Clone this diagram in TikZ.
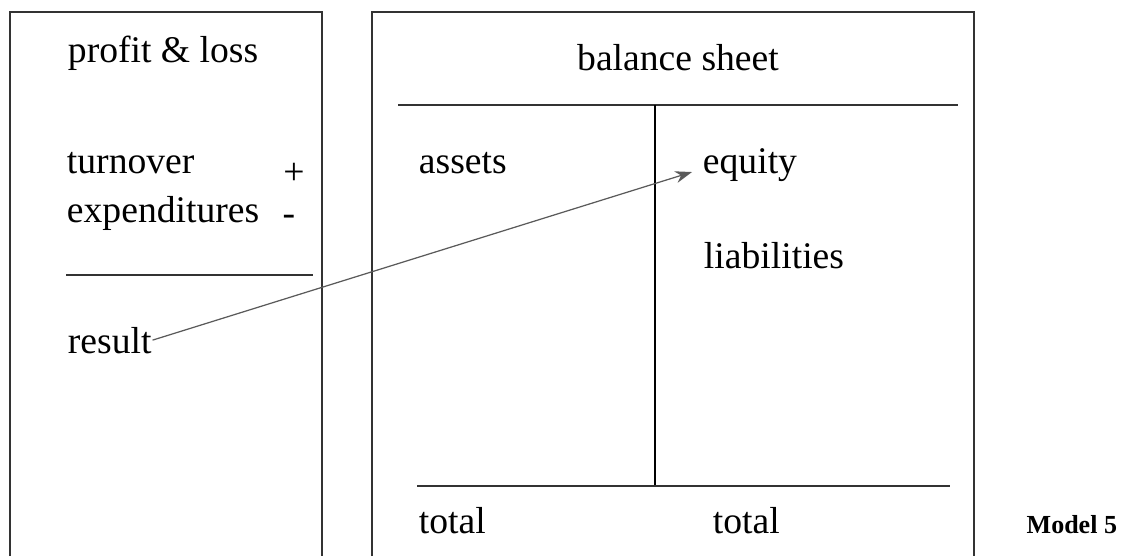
\documentclass[tikz,border=0pt]{standalone}
\usepackage{fontspec}
\setmainfont{Liberation Serif}
\usetikzlibrary{arrows.meta}
\definecolor{acframe}{HTML}{333333}
\definecolor{acarrow}{HTML}{5A5A5A}

\begin{document}
\begin{tikzpicture}[x=0.01cm, y=-0.01cm, line width=0.55pt,
    lbl/.style={inner sep=0pt, anchor=base west, font=\fontsize{10.7}{12}\selectfont},
    sgn/.style={inner sep=0pt, font=\fontsize{10.7}{12}\selectfont}]
  \useasboundingbox (0,0) rectangle (1130,556);
  % profit and loss account
  \draw[acframe] (10,556) -- (10,12) -- (322,12) -- (322,556);
  \node[lbl] (pl) at (67,62) {profit \& loss};
  \node[lbl] (turnover) at (66,173) {turnover};
  \node[sgn] (plus) at (294,174) {+};
  \node[lbl] (expend) at (66,222) {expenditures};
  \node[sgn] (minus) at (289,220) {-};
  \draw[acframe, line width=0.45pt] (66,275) -- (313,275);
  \node[lbl] (result) at (67,353) {result};
  % balance sheet
  \draw[acframe] (372,556) -- (372,12) -- (974,12) -- (974,556);
  \node[inner sep=0pt, anchor=base, font=\fontsize{10.7}{12}\selectfont] (bs) at (678,70) {balance sheet};
  \draw[acframe, line width=0.45pt] (398,105) -- (958,105);
  \draw[line width=0.35pt] (655,105) -- (655,486);
  \draw[acframe, line width=0.45pt] (417,486) -- (950,486);
  \node[lbl] (assets) at (418,173) {assets};
  \node[lbl] (equity) at (702,173) {equity};
  \node[lbl] (liab) at (703,268) {liabilities};
  \node[lbl] (totala) at (418,533) {total};
  \node[lbl] (totalb) at (712,533) {total};
  % result goes to equity
  \coordinate (eqin) at (692,172);
  \draw[acarrow, line width=0.35pt, -{Stealth[length=4.8pt, width=3.4pt]}] (result.east) -- (eqin);
  \node[inner sep=0pt, anchor=base east, font=\fontsize{7.4}{9}\selectfont\bfseries] (model) at (1118,533) {Model 5};
\end{tikzpicture}
\end{document}
